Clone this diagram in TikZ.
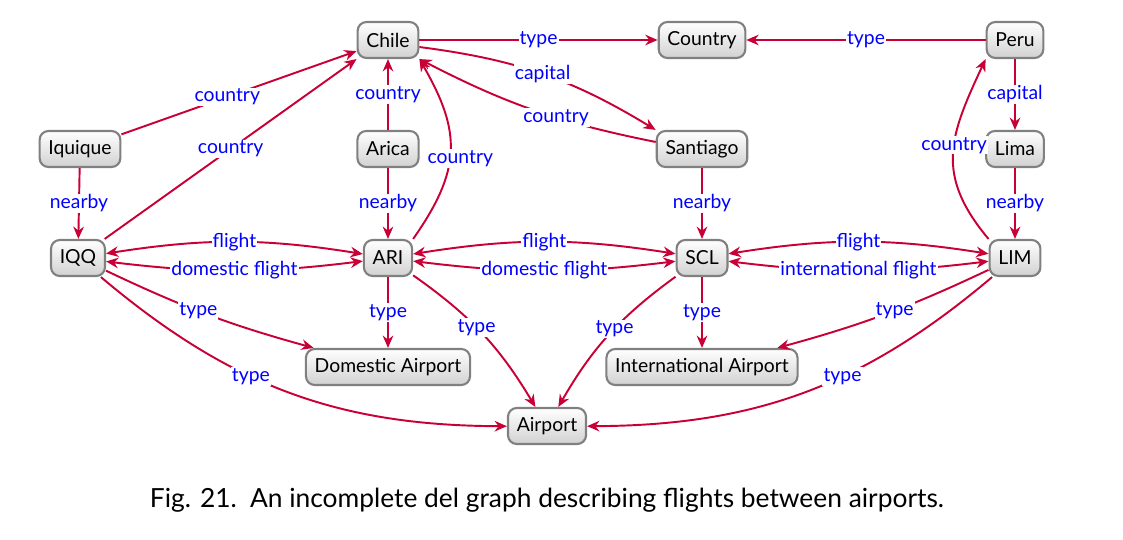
\documentclass[tikz,border=0pt]{standalone}
\usepackage{fontspec}
\setmainfont{Lato}
\usetikzlibrary{arrows.meta,shapes}

\begin{document}
\begin{tikzpicture}[> = {Stealth[length=7pt,width=6pt]}, font = \fontsize{11}{13}\selectfont]
    \tikzset{
      entity/.style = {draw = black!50, line width = 1.2pt, rounded corners = 5pt,
        top color = white, bottom color = black!18, minimum height = 0.72cm, inner xsep = 5pt},
      rel/.style = {->, draw = purple!85!red, line width = 1.1pt},
      lbl/.style = {fill = white, text = blue, inner sep = 0.6pt, anchor = center},
    }
    \useasboundingbox (0, 0) rectangle (22.46, -10.8);

    \node [entity] (chile) at (7.76, -0.8) {Chile};
    \node [entity] (country) at (14.04, -0.8) {Country};
    \node [entity] (peru) at (20.3, -0.8) {Peru};

    \node [entity] (iquique) at (1.6, -2.98) {Iquique};
    \node [entity] (arica) at (7.76, -2.98) {Arica};
    \node [entity] (santiago) at (14.04, -2.98) {Santiago};
    \node [entity] (lima) at (20.3, -2.98) {Lima};

    \node [entity] (iqq) at (1.56, -5.16) {IQQ};
    \node [entity] (ari) at (7.76, -5.16) {ARI};
    \node [entity] (scl) at (14.04, -5.16) {SCL};
    \node [entity] (lim) at (20.3, -5.16) {LIM};

    \node [entity] (domestic) at (7.76, -7.34) {Domestic Airport};
    \node [entity] (international) at (14.04, -7.34) {International Airport};
    \node [entity] (airport) at (10.94, -8.52) {Airport};

    \draw [rel] (chile) -- node[lbl]{type} (country);
    \draw [rel] (peru) -- node[lbl]{type} (country);
    \draw [rel] ([yshift = -4pt]chile.east) to[bend left = 12] node[lbl, pos = 0.5]{capital} (santiago.north west);
    \draw [rel] ([yshift = 4pt]santiago.west) to[bend left = 8] node[lbl, pos = 0.4]{country} (chile.south east);
    \draw [rel] (peru) -- node[lbl]{capital} (lima);
    \draw [rel] (lim.north west) to[out = 130, in = -115, looseness = 1.2] node[lbl, pos = 0.55]{country} (peru.south west);

    \draw [rel] (iquique) -- node[lbl, pos = 0.45]{country} (chile);
    \draw [rel] (iqq) -- node[lbl]{country} (chile.south west);
    \draw [rel] (arica) -- node[lbl]{country} (chile);
    \draw [rel] (ari.north east) to[out = 55, in = -60, looseness = 1.2] node[lbl, pos = 0.45, xshift = 6pt]{country} (chile.south east);

    \draw [rel] (iquique) -- node[lbl]{nearby} (iqq);
    \draw [rel] (arica) -- node[lbl]{nearby} (ari);
    \draw [rel] (santiago) -- node[lbl]{nearby} (scl);
    \draw [rel] (lima) -- node[lbl]{nearby} (lim);

    \draw [rel, <->] (iqq) to[bend left = 9] node[lbl]{flight} (ari);
    \draw [rel, <->] (iqq) to[bend right = 7] node[lbl]{domestic flight} (ari);
    \draw [rel, <->] (ari) to[bend left = 9] node[lbl]{flight} (scl);
    \draw [rel, <->] (ari) to[bend right = 7] node[lbl]{domestic flight} (scl);
    \draw [rel, <->] (scl) to[bend left = 9] node[lbl]{flight} (lim);
    \draw [rel, <->] (scl) to[bend right = 7] node[lbl]{international flight} (lim);

    \draw [rel] (iqq) to[bend right = 5] node[lbl, pos = 0.45]{type} (domestic);
    \draw [rel] (iqq) to[bend right = 20] node[lbl, pos = 0.4]{type} (airport);
    \draw [rel] (ari) -- node[lbl]{type} (domestic);
    \draw [rel] (ari) to[bend left = 12] node[lbl, pos = 0.45]{type} (airport);
    \draw [rel] (scl) to[bend right = 12] node[lbl, pos = 0.45]{type} (airport);
    \draw [rel] (scl) -- node[lbl]{type} (international);
    \draw [rel] (lim) to[bend left = 5] node[lbl, pos = 0.45]{type} (international);
    \draw [rel] (lim) to[bend left = 20] node[lbl, pos = 0.4]{type} (airport);

    \node (caption) at (10.94, -10.0) {\fontsize{15}{17}\selectfont Fig. 21.\enspace An incomplete del graph describing flights between airports.};
  \end{tikzpicture}
\end{document}
